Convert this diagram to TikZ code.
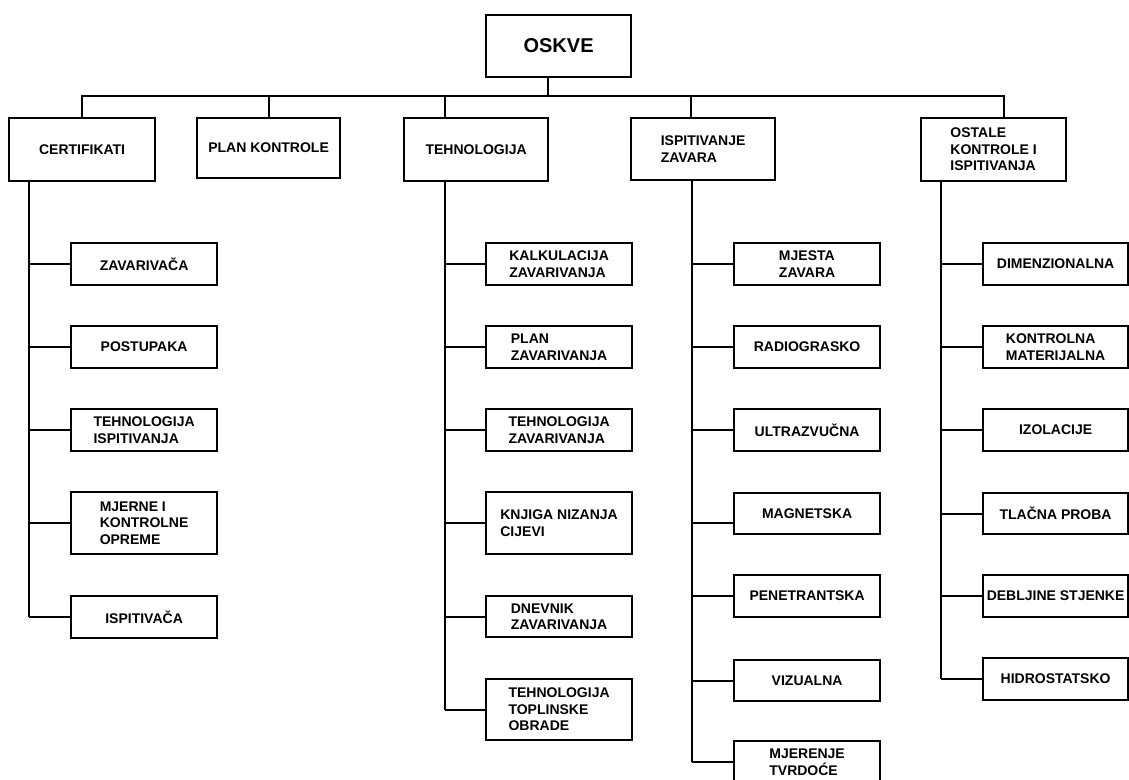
\documentclass[tikz,border=0pt]{standalone}
\usepackage{fontspec}
\setmainfont{Liberation Sans}
\usepackage{tikz}
\usetikzlibrary{positioning, calc}
\tikzset{
  line/.style={line width=2.2pt, color=black},
  rootbox/.style={rectangle, draw, line width=2.2pt, anchor=north west,
    minimum width=145pt, minimum height=62pt, inner sep=0pt,
    font=\fontsize{20}{24}\selectfont\bfseries},
  topbox/.style={rectangle, draw, line width=2.2pt, anchor=north west,
    minimum width=145pt, minimum height=63pt, inner sep=0pt, align=left,
    font=\fontsize{14}{16.5}\selectfont\bfseries},
  subbox/.style={rectangle, draw, line width=2.2pt, anchor=north west,
    minimum width=146pt, inner sep=0pt, align=left,
    font=\fontsize{14}{16.5}\selectfont\bfseries}
}
\begin{document}
\begin{tikzpicture}[x=1pt, y=-1pt]
  \clip (0,0) rectangle (1129,779);
  % Root
  \node[rootbox] (oskve) at (485,14) {OSKVE};
  % Main groups
  \node[topbox, minimum width=146pt] (cert) at (8,117) {CERTIFIKATI};
  \node[topbox, minimum width=143pt, minimum height=60pt] (plan) at (196,117) {PLAN KONTROLE};
  \node[topbox, minimum width=144pt] (tehn) at (403,117) {TEHNOLOGIJA};
  \node[topbox, minimum width=144pt, minimum height=62pt] (ispit) at (630,117) {ISPITIVANJE\\ZAVARA};
  \node[topbox] (ostale) at (920,117) {OSTALE\\KONTROLE I\\ISPITIVANJA};

  % Bus from the root
  \coordinate (bus) at (0,96);
  \draw[line] ([xshift=-10.5pt]oskve.south) -- ([xshift=-10.5pt]oskve.south |- bus);
  \draw[line, line cap=rect] (cert.north |- bus) -- ([xshift=10.5pt]ostale.north |- bus);
  \draw[line] (cert.north) -- (cert.north |- bus);
  \draw[line] (plan.north) -- (plan.north |- bus);
  \draw[line] ([xshift=-31pt]tehn.north) -- ([xshift=-31pt]tehn.north |- bus);
  \draw[line] ([xshift=-12pt]ispit.north) -- ([xshift=-12pt]ispit.north |- bus);
  \draw[line] ([xshift=10.5pt]ostale.north) -- ([xshift=10.5pt]ostale.north |- bus);

  % Trunks
  \coordinate (t1) at ([xshift=21pt]cert.south west);
  \coordinate (t3) at ([xshift=-31pt]tehn.south);
  \coordinate (t4) at ([xshift=-11pt]ispit.south);
  \coordinate (t5) at ([xshift=21pt]ostale.south west);

  % Certifikati
  \foreach \i/\y/\h/\txt in {1/242/42/ZAVARIVAČA, 2/325/42/POSTUPAKA,
      3/408/42/{TEHNOLOGIJA\\ISPITIVANJA}, 4/491/62/{MJERNE I\\KONTROLNE\\OPREME},
      5/595/42/ISPITIVAČA}
    \node[subbox, minimum height=\h pt] (cert\i) at (70,\y) {\txt};
  \foreach \i in {1,...,5}
    \draw[line] (t1 |- cert\i.west) -- (cert\i.west);
  \draw[line] (t1) -- (t1 |- cert5.west);

  % Tehnologija
  \foreach \i/\y/\h/\txt in {1/242/42/{KALKULACIJA\\ZAVARIVANJA}, 2/325/42/{PLAN\\ZAVARIVANJA},
      3/408/42/{TEHNOLOGIJA\\ZAVARIVANJA}, 4/491/62/{KNJIGA NIZANJA\\CIJEVI},
      5/595/41/{DNEVNIK\\ZAVARIVANJA}, 6/678/61/{TEHNOLOGIJA\\TOPLINSKE\\OBRADE}}
    \node[subbox, minimum height=\h pt] (teh\i) at (485,\y) {\txt};
  \foreach \i in {1,...,6}
    \draw[line] (t3 |- teh\i.west) -- (teh\i.west);
  \draw[line] (t3) -- (t3 |- teh6.west);

  % Ispitivanje zavara
  \foreach \i/\y/\h/\txt in {1/242/42/{MJESTA\\ZAVARA}, 2/325/42/RADIOGRASKO,
      3/408/42/ULTRAZVUČNA, 4/492/41/MAGNETSKA, 5/574/42/PENETRANTSKA,
      6/659/41/VIZUALNA, 7/740/42/{MJERENJE\\TVRDOĆE}}
    \node[subbox, minimum height=\h pt] (isp\i) at (733,\y) {\txt};
  \foreach \i/\dy in {1/0, 2/0, 3/0, 4/-9.5, 5/0, 6/0, 7/0} {
    \coordinate (e\i) at ([yshift=\dy pt]isp\i.west);
    \draw[line] (t4 |- e\i) -- (e\i);
  }
  \draw[line] (t4) -- (t4 |- isp7.west);

  % Ostale kontrole
  \foreach \i/\y/\h/\txt in {1/242/42/DIMENZIONALNA, 2/325/42/{KONTROLNA\\MATERIJALNA},
      3/408/42/IZOLACIJE, 4/492/41/TLAČNA PROBA, 5/574/42/DEBLJINE STJENKE,
      6/657/42/HIDROSTATSKO}
    \node[subbox, minimum width=145pt, minimum height=\h pt] (ost\i) at (982,\y) {\txt};
  \foreach \i in {1,...,6}
    \draw[line] (t5 |- ost\i.west) -- (ost\i.west);
  \draw[line] (t5) -- (t5 |- ost6.west);
\end{tikzpicture}
\end{document}
